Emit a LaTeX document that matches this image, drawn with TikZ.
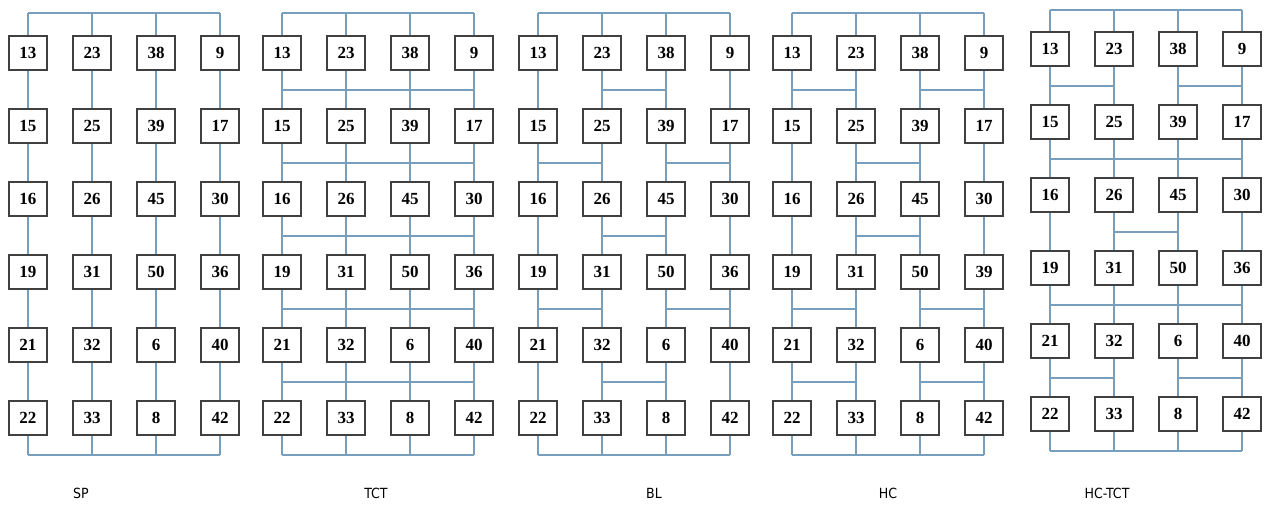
\documentclass[tikz,border=0pt]{standalone}
\usepackage{fontspec}
\setmainfont{Liberation Serif}
\newfontfamily\labfont{DejaVu Sans Condensed}
\usepackage{tikz}
\usetikzlibrary{calc}
\usepackage{xcolor}
\definecolor{wireblue}{RGB}{120, 158, 190}

\tikzset{
  cell/.style={draw=black!75, line width=1.8pt, fill=white, minimum width=38pt,
    minimum height=34pt, inner sep=0pt, font=\fontsize{17}{17}\selectfont\bfseries},
  wire/.style={draw=wireblue, line width=1.4pt},
  caption/.style={font=\labfont\fontsize{14}{15}\selectfont}
}

\begin{document}
\begin{tikzpicture}[x=1pt, y=-1pt]
    \useasboundingbox[fill=white] (0,0) rectangle (1271,504);
    % five panels, 6 rows x 4 columns each
    \foreach \p/\xo/\yo/\yt/\yb/\odd in {sp/28/53/13/455/36, tct/282/53/13/455/36,
        bl/538/53/13/455/36, hc/792/53/13/455/39, hctct/1050/49/10/451/36} {
      \foreach \c/\cl in {1/{13,15,16,19,21,22}, 2/{23,25,26,31,32,33},
          3/{38,39,45,50,6,8}, 4/{9,17,30,\odd,40,42}} {
        \foreach \n [count=\r] in \cl
          \node[cell] (\p-\r-\c) at ({\xo+64*(\c-1)}, {\yo+73*(\r-1)}) {\n};
        \coordinate (\p-t\c) at ({\xo+64*(\c-1)}, \yt);
        \coordinate (\p-b\c) at ({\xo+64*(\c-1)}, \yb);
      }
      % strings and the two buses
      \foreach \c in {1,...,4} {
        \draw[wire] (\p-t\c) -- (\p-1-\c);
        \foreach \r [evaluate=\r as \s using int(\r+1)] in {1,...,5}
          \draw[wire] (\p-\r-\c) -- (\p-\s-\c);
        \draw[wire] (\p-6-\c) -- (\p-b\c);
      }
      \draw[wire] (\p-t1) -- (\p-t4);
      \draw[wire] (\p-b1) -- (\p-b4);
    }
    % cross ties: panel/row/from/to
    \foreach \p/\r/\a/\b in {tct/1/1/4, tct/2/1/4, tct/3/1/4, tct/4/1/4, tct/5/1/4,
        bl/1/2/3, bl/2/1/2, bl/2/3/4, bl/3/2/3, bl/4/1/2, bl/4/3/4, bl/5/2/3,
        hc/1/1/2, hc/1/3/4, hc/2/2/3, hc/3/2/3, hc/4/1/2, hc/4/3/4, hc/5/1/2, hc/5/3/4,
        hctct/1/1/2, hctct/1/3/4, hctct/2/1/4, hctct/3/2/3, hctct/4/1/4,
        hctct/5/1/2, hctct/5/3/4} {
      \pgfmathtruncatemacro{\s}{\r+1}
      \draw[wire] ($(\p-\r-\a)!.5!(\p-\s-\a) + (0,0.5)$)
        -- ($(\p-\r-\b)!.5!(\p-\s-\b) + (0,0.5)$);
    }
    \node[caption] (lsp) at (81,493) {SP};
    \node[caption] (ltct) at (376,493) {TCT};
    \node[caption] (lbl) at (654,493) {BL};
    \node[caption] (lhc) at (888,493) {HC};
    \node[caption] (lhctct) at (1107,493) {HC-TCT};
\end{tikzpicture}
\end{document}
